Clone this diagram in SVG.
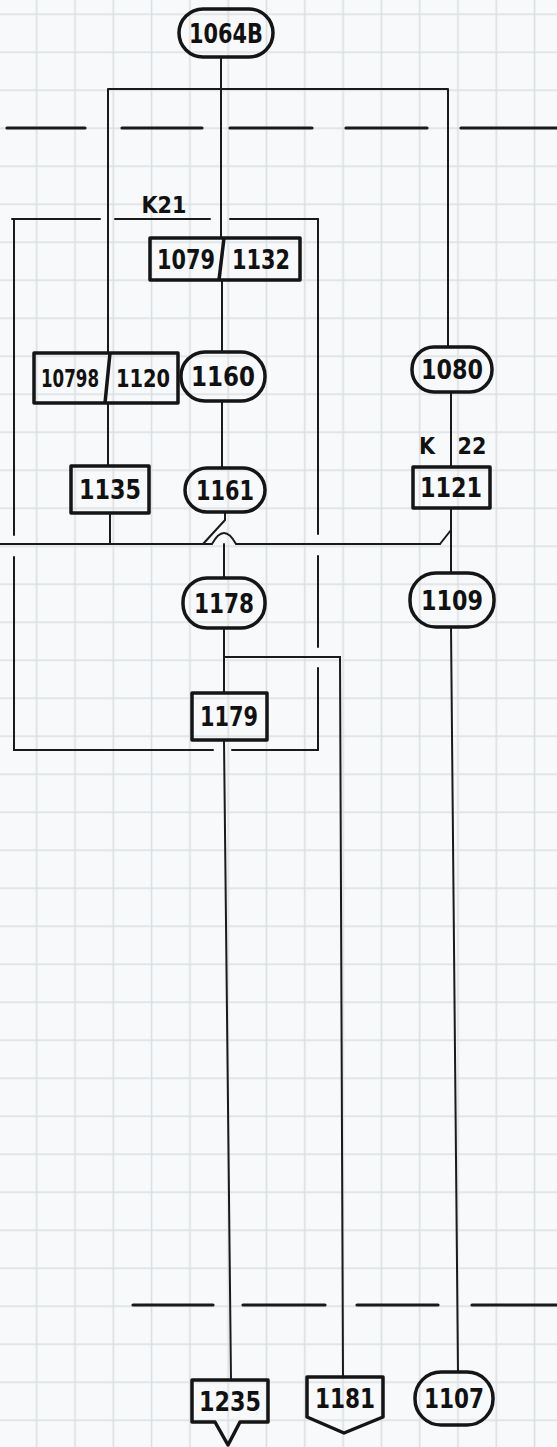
<svg xmlns="http://www.w3.org/2000/svg" width="557" height="1447" viewBox="0 0 557 1447">
<style>
.node{fill:none;stroke:#151515;stroke-width:3.5;stroke-linejoin:round}
.c{fill:none;stroke:#1a1a1a;stroke-width:2;stroke-linecap:round}
.d{fill:none;stroke:#1a1a1a;stroke-width:3.2;stroke-linecap:round}
.t{font-family:"DejaVu Sans Condensed","Liberation Sans Narrow","Liberation Sans",sans-serif;font-weight:bold;font-size:27px;fill:#111;text-anchor:middle}
.s{font-size:25px}
.k{font-family:"DejaVu Sans Condensed","Liberation Sans",sans-serif;font-weight:bold;font-size:23px;fill:#111;text-anchor:middle}
</style>
<defs>
<pattern id="grid" patternUnits="userSpaceOnUse" x="17.5" y="-4.7" width="38.3" height="38">
<path d="M19.2 0 V38 M0 19 H38.3" stroke="#dadfe3" stroke-width="1.6" fill="none"/>
</pattern>
</defs>
<rect width="557" height="1447" fill="#f8f9fa"/>
<rect width="557" height="1447" fill="url(#grid)"/>

<g id="connectors">
<path class="d" d="M7 128 H85 M122 128 H202 M230 128 H312 M346 128 H427 M461 128 H557"/>
<path class="d" d="M133 1305 H213 M243 1305 H325 M357 1305 H438 M472 1305 H557"/>
<path class="c" d="M221 57 V238"/>
<path class="c" d="M108 89 H448 M108 89 V353 M448 89 V347"/>
<path class="c" d="M12 219 H100 M115 219 H210 M230 219 H318"/>
<path class="c" d="M14 219 V535 M14 557 V750 H213 M232 750 H318 V668 M318 647 V556 M318 534 V219"/>
<path class="c" d="M222 280 V352"/>
<path class="c" d="M222 401 V468"/>
<path class="c" d="M108 403 V466"/>
<path class="c" d="M110 513 V544"/>
<path class="c" d="M451 392 V467"/>
<path class="c" d="M451 508 V573"/>
<path class="c" d="M451 530 L440 544"/>
<path class="c" d="M0 544 H212 Q224 522 236 544 H440"/>
<path class="c" d="M225 512 V520 L203 544"/>
<path class="c" d="M224 544 V578"/>
<path class="c" d="M224 628 V693"/>
<path class="c" d="M224 657 H340 L343 1377"/>
<path class="c" d="M224 740 L231 1380"/>
<path class="c" d="M451 627 L458 1372"/>
<text class="k" x="164" y="213">K21</text>
<text class="k" x="427" y="454">K</text>
<text class="k" x="472" y="454">22</text>
</g>

<g id="n1064B">
<rect class="node" x="179" y="9" width="94" height="48" rx="24"/>
<text class="t" x="226" y="43" textLength="74" lengthAdjust="spacingAndGlyphs">1064B</text>
</g>
<g id="n1079_1132">
<rect class="node" x="150" y="238" width="150" height="42"/>
<path class="node" d="M224 238 L219 280"/>
<text class="t" x="186" y="269" textLength="58" lengthAdjust="spacingAndGlyphs">1079</text>
<text class="t" x="261" y="269" textLength="58" lengthAdjust="spacingAndGlyphs">1132</text>
</g>
<g id="n10798_1120">
<rect class="node" x="34" y="353" width="144" height="50"/>
<path class="node" d="M110 353 L105 403"/>
<text class="t s" x="70" y="387" textLength="58" lengthAdjust="spacingAndGlyphs">10798</text>
<text class="t s" x="143" y="387" textLength="54" lengthAdjust="spacingAndGlyphs">1120</text>
</g>
<g id="n1160">
<rect class="node" x="181" y="352" width="84" height="49" rx="24"/>
<text class="t" x="223" y="386" textLength="64" lengthAdjust="spacingAndGlyphs">1160</text>
</g>
<g id="n1080">
<rect class="node" x="412" y="347" width="80" height="45" rx="22"/>
<text class="t" x="452" y="379" textLength="62" lengthAdjust="spacingAndGlyphs">1080</text>
</g>
<g id="n1135">
<rect class="node" x="71" y="466" width="78" height="47"/>
<text class="t" x="110" y="499" textLength="62" lengthAdjust="spacingAndGlyphs">1135</text>
</g>
<g id="n1161">
<rect class="node" x="185" y="468" width="80" height="44" rx="22"/>
<text class="t" x="225" y="500" textLength="58" lengthAdjust="spacingAndGlyphs">1161</text>
</g>
<g id="n1121">
<rect class="node" x="413" y="467" width="77" height="41"/>
<text class="t" x="451" y="497" textLength="62" lengthAdjust="spacingAndGlyphs">1121</text>
</g>
<g id="n1178">
<rect class="node" x="183" y="578" width="82" height="50" rx="24"/>
<text class="t" x="224" y="613" textLength="60" lengthAdjust="spacingAndGlyphs">1178</text>
</g>
<g id="n1109">
<rect class="node" x="410" y="573" width="84" height="54" rx="26"/>
<text class="t" x="452" y="610" textLength="62" lengthAdjust="spacingAndGlyphs">1109</text>
</g>
<g id="n1179">
<rect class="node" x="192" y="693" width="75" height="47"/>
<text class="t" x="229" y="726" textLength="58" lengthAdjust="spacingAndGlyphs">1179</text>
</g>
<g id="n1235">
<path class="node" d="M192 1380 H268 V1422 H240 L228 1445 L215 1422 H192 Z"/>
<text class="t" x="230" y="1411" textLength="62" lengthAdjust="spacingAndGlyphs">1235</text>
</g>
<g id="n1181">
<path class="node" d="M307 1377 H383 V1417 L344 1433 L307 1417 Z"/>
<text class="t" x="345" y="1408" textLength="60" lengthAdjust="spacingAndGlyphs">1181</text>
</g>
<g id="n1107">
<rect class="node" x="415" y="1372" width="78" height="53" rx="26"/>
<text class="t" x="454" y="1408" textLength="60" lengthAdjust="spacingAndGlyphs">1107</text>
</g>
</svg>
